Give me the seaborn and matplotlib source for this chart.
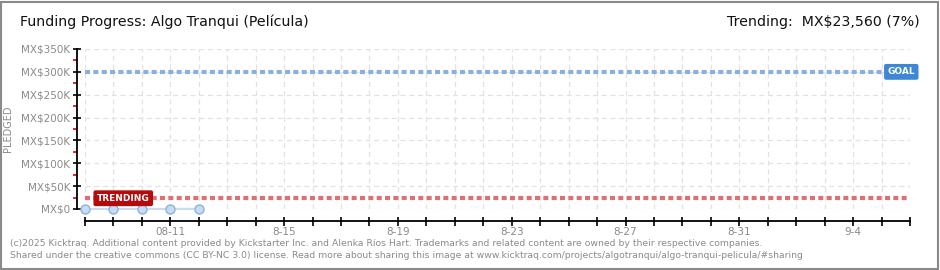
import matplotlib
matplotlib.use("Agg")
import matplotlib.pyplot as plt
import seaborn as sns
import pandas as pd

# ---- data ----
dates = ["2025-08-08", "2025-08-09", "2025-08-10", "2025-08-11", "2025-08-12"]
pledged = [0, 0, 0, 300, 300]
goal = 300000
trending = 23560
trending_pct = 7
y_ticks = [0, 50000, 100000, 150000, 200000, 250000, 300000, 350000]
y_tick_labels = ["MX$0", "MX$50K", "MX$100K", "MX$150K", "MX$200K", "MX$250K", "MX$300K", "MX$350K"]
x_start, x_end = "2025-08-08", "2025-09-06"
x_label_dates = ["2025-08-11", "2025-08-15", "2025-08-19", "2025-08-23", "2025-08-27", "2025-08-31", "2025-09-04"]
x_labels = ["08-11", "8-15", "8-19", "8-23", "8-27", "8-31", "9-4"]
title = "Funding Progress: Algo Tranqui (Película)"
footer1 = ("(c)2025 Kicktraq. Additional content provided by Kickstarter Inc. and Alenka Ríos Hart. "
           "Trademarks and related content are owned by their respective companies.")
footer2 = ("Shared under the creative commons (CC BY-NC 3.0) license. Read more about sharing this image at "
           "www.kicktraq.com/projects/algotranqui/algo-tranqui-pelicula/#sharing")

df = pd.DataFrame({"date": pd.to_datetime(dates), "pledged": pledged})

sns.set_theme(style="white")
plt.rcParams["font.family"] = ["DejaVu Sans"]

W, H = 940, 270
PX = 72 / 100  # points per pixel
fig = plt.figure(figsize=(W / 100, H / 100), dpi=100)
fig.patch.set_facecolor("white")

# outer frame
fig.add_artist(plt.Rectangle((1 / W, 1 / H), 1 - 3 / W, 1 - 3 / H, transform=fig.transFigure,
                             fill=False, edgecolor="#8a8a8a", linewidth=1.5))

left, right = 85 / W, 910 / W
bottom, top = 1 - 209 / H, 1 - 49 / H
ax = fig.add_axes([left, bottom, right - left, top - bottom])
ax.set_facecolor("white")

x0, x1 = pd.Timestamp(x_start), pd.Timestamp(x_end)
ax.set_xlim(x0, x1)
ax.set_ylim(0, 350000)

# grid
days = pd.date_range(x0, x1, freq="D")
for d in days:
    ax.axvline(d, color="#e2e2e2", linestyle=(0, (4, 3)), linewidth=0.9, zorder=0)
for yv in y_ticks:
    ax.axhline(yv, color="#e2e2e2", linestyle=(0, (4, 3)), linewidth=0.9, zorder=0)

# goal & trending lines
ax.axhline(goal, color="#8cb0dc", linestyle=(0, (1.2, 0.8)), linewidth=3, zorder=2)
ax.axhline(trending, color="#e07070", linestyle=(0, (1.2, 0.8)), linewidth=3, zorder=2)

# pledged line
sns.lineplot(data=df, x="date", y="pledged", ax=ax, color="#c6dcf2", linewidth=1.5,
             marker="o", markersize=6.5, markerfacecolor="#c6dcf2", markeredgecolor="#8fb3da",
             markeredgewidth=1, zorder=4, clip_on=False)

# label boxes
ax.text(pd.Timestamp("2025-08-08") + pd.Timedelta(hours=10), trending, "TRENDING",
        fontsize=6.5, color="white", fontweight="bold", va="center", ha="left", zorder=5,
        bbox=dict(boxstyle="round,pad=0.3,rounding_size=0.15", fc="#b50a0a", ec="#b50a0a"))
ax.text(pd.Timestamp("2025-09-05") + pd.Timedelta(hours=5), goal, "GOAL",
        fontsize=6.5, color="white", fontweight="bold", va="center", ha="left", zorder=5,
        bbox=dict(boxstyle="round,pad=0.3,rounding_size=0.15", fc="#3d87d6", ec="#3d87d6"))

# spines
for s in ["top", "right"]:
    ax.spines[s].set_visible(False)
ax.spines["left"].set_position(("outward", 8 * PX))
ax.spines["bottom"].set_position(("outward", 12 * PX))
for s in ["left", "bottom"]:
    ax.spines[s].set_color("black")
    ax.spines[s].set_linewidth(1.3)

# y ticks
ax.set_yticks(y_ticks)
ax.set_yticklabels(y_tick_labels)
ax.set_yticks([25000 + 50000 * i for i in range(7)], minor=True)
ax.tick_params(axis="y", which="major", direction="inout", length=8 * PX, width=1.2, color="black",
               labelsize=7.5, labelcolor="#8a8a8a", pad=2, left=True)
ax.tick_params(axis="y", which="minor", direction="out", length=4 * PX, width=1.2, color="#e00000", left=True)

# x ticks
ax.set_xticks(days)
label_map = dict(zip(pd.to_datetime(x_label_dates), x_labels))
ax.set_xticklabels([label_map.get(d, "") for d in days])
ax.tick_params(axis="x", which="major", direction="inout", length=9 * PX, width=1.2, color="black",
               labelsize=7.5, labelcolor="#8a8a8a", pad=1, bottom=True)
ax.set_xlabel("")
ax.set_ylabel("")
fig.text(8 / W, 1 - 129 / H, "PLEDGED", rotation=90, fontsize=7, color="#8a8a8a",
         va="center", ha="center")

# titles
fig.text(20 / W, 1 - 22 / H, title, fontsize=10.2, color="#111111", va="center", ha="left")
fig.text(920 / W, 1 - 22 / H, f"Trending:  MX$23,560 ({trending_pct}%)", fontsize=10.2,
         color="#111111", va="center", ha="right")

# footer
fig.text(10 / W, 1 - 243 / H, footer1, fontsize=6.65, color="#8a8a8a", va="center", ha="left")
fig.text(10 / W, 1 - 256 / H, footer2, fontsize=6.65, color="#8a8a8a", va="center", ha="left")

fig.savefig("out.png", dpi=100, facecolor="white")
